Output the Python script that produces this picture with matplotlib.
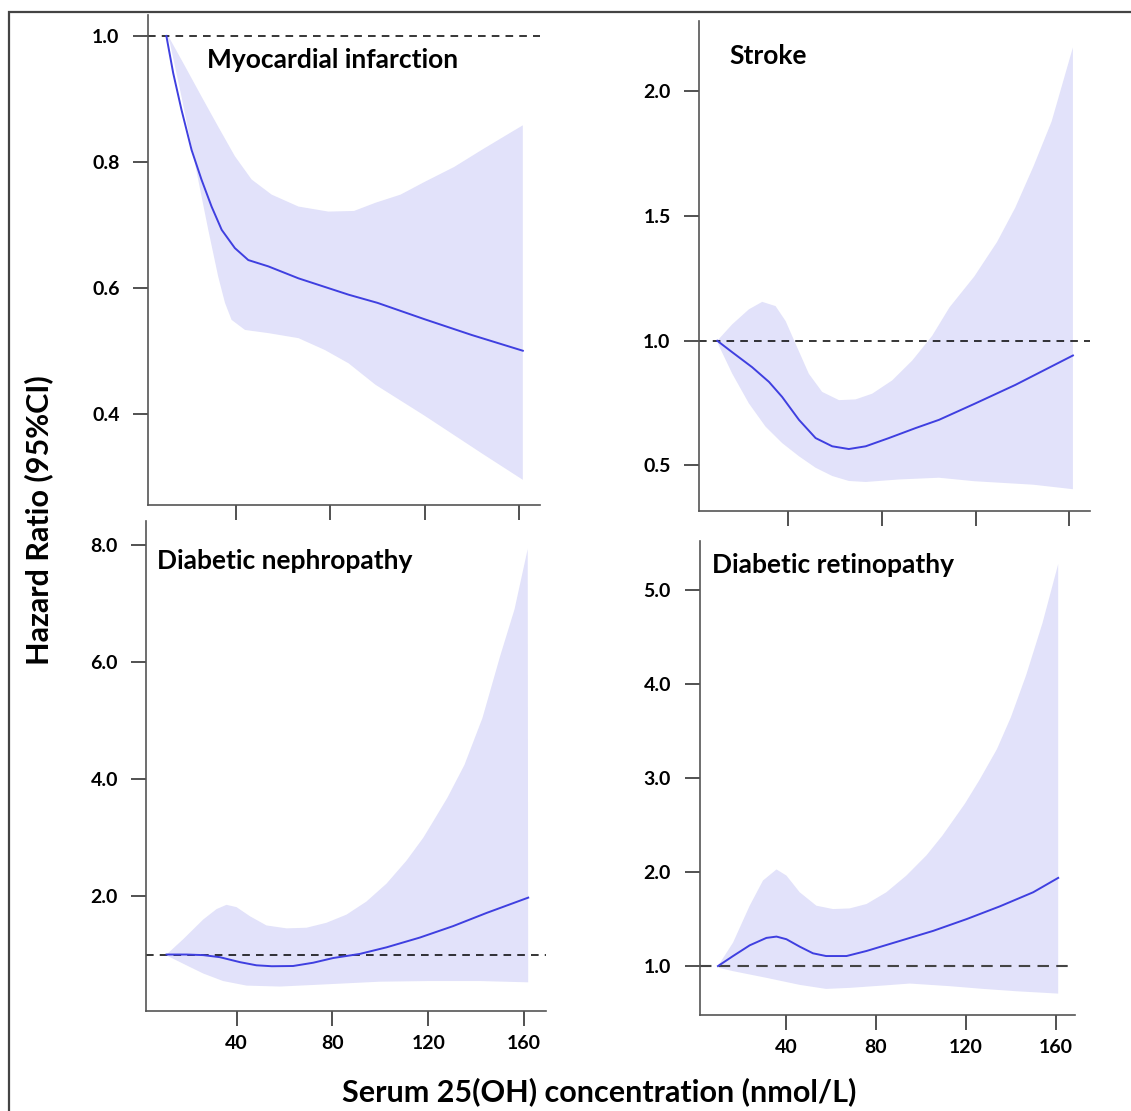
import numpy as np
import matplotlib
matplotlib.use('Agg')
import matplotlib.pyplot as plt
from matplotlib.patches import Rectangle

plt.rcParams['font.family'] = ['Lato', 'DejaVu Sans']
plt.rcParams['font.weight'] = 'bold'

W, H = 1131, 1111

# ---------------- data ----------------
# Myocardial infarction
mi_x = [10.3, 13.2, 16.7, 21, 25.2, 29.5, 33.8, 39.4, 45.1, 53.6, 66.4, 87.7, 100, 120, 140, 161.7]
mi_hr = [1.0, 0.941, 0.883, 0.819, 0.772, 0.729, 0.692, 0.663, 0.644, 0.634, 0.615, 0.589, 0.576, 0.550, 0.525, 0.50]
mi_up_x = [10.3, 11.1, 18.2, 25.2, 32.3, 39.4, 46.5, 55, 66.4, 79.1, 90, 99.1, 109.8, 119.9, 132.6, 144.7, 155.4, 161.7]
mi_up = [1.0, 1.0, 0.952, 0.904, 0.856, 0.809, 0.772, 0.748, 0.729, 0.721, 0.722, 0.735, 0.748, 0.768, 0.792,
         0.820, 0.844, 0.858]
mi_lo_x = [10.3, 11.8, 16.7, 22.4, 28.1, 32.3, 35.2, 38, 43.7, 53.6, 66.4, 77.7, 87.7, 99.1, 119.9, 144.7, 161.7]
mi_lo = [1.0, 0.989, 0.904, 0.798, 0.692, 0.618, 0.576, 0.549, 0.533, 0.528, 0.520, 0.501, 0.480, 0.446, 0.397,
         0.336, 0.295]

# Stroke
st_x = [9.7, 16.1, 24.6, 31.8, 37.4, 44.6, 51.7, 58.8, 65.9, 73.1, 83, 94.4, 104.4, 119.5, 137, 161.6]
st_hr = [1.0, 0.954, 0.894, 0.835, 0.775, 0.683, 0.61, 0.577, 0.566, 0.577, 0.61, 0.65, 0.683, 0.747, 0.823, 0.941]
st_up_x = [9.7, 16.1, 23.2, 28.9, 34.6, 38.9, 43.2, 48.8, 54.5, 61.7, 68.8, 75.9, 84.4, 93, 101.5, 108.9,
           119.5, 129.2, 137, 144.8, 152.5, 161.6]
st_up = [1.0, 1.066, 1.126, 1.156, 1.139, 1.079, 0.987, 0.868, 0.795, 0.762, 0.765, 0.788, 0.841, 0.921, 1.02,
         1.134, 1.258, 1.396, 1.534, 1.70, 1.879, 2.176]
st_lo_x = [9.7, 10.4, 16.1, 23.2, 30.3, 37.4, 44.6, 51.7, 58.8, 65.9, 73.1, 87.3, 104.4, 119.5, 144.7, 161.6]
st_lo = [1.0, 0.98, 0.868, 0.749, 0.656, 0.59, 0.537, 0.491, 0.458, 0.438, 0.434, 0.444, 0.451, 0.437, 0.423, 0.405]

# Diabetic nephropathy
dn_x = [10.8, 19.1, 26.1, 33, 41.4, 48.3, 54.7, 63.6, 72, 80.3, 91.4, 102.6, 116.5, 130.4, 144.3, 161.7]
dn_hr = [1.0, 1.0, 0.99, 0.955, 0.87, 0.816, 0.80, 0.804, 0.86, 0.94, 1.01, 1.123, 1.29, 1.486, 1.71, 1.972]
dn_up_x = [10.8, 17.8, 26.1, 31.7, 35.8, 40, 45.6, 52.5, 60.9, 69.2, 77.5, 85.9, 94.2, 102.6, 110.9, 117.9,
           122, 128, 135.1, 142.6, 150, 156, 161.5]
dn_up = [1.0, 1.263, 1.598, 1.777, 1.849, 1.81, 1.654, 1.497, 1.447, 1.458, 1.542, 1.682, 1.905, 2.212, 2.603,
         2.994, 3.27, 3.68, 4.24, 5.04, 6.10, 6.9, 7.93]
dn_lo_x = [10.8, 11.5, 19.1, 26.1, 34.4, 44.2, 58.1, 72, 85.9, 99.8, 120.6, 141.5, 161.7]
dn_lo = [1.0, 0.97, 0.816, 0.676, 0.547, 0.469, 0.453, 0.48, 0.508, 0.536, 0.547, 0.547, 0.525]

# Diabetic retinopathy
dr_x = [9.9, 16.6, 24, 31.4, 35.9, 40.3, 46.2, 52.1, 57.9, 67, 75.9, 90.7, 105.5, 120.3, 135.1, 149.9, 161]
dr_hr = [1.0, 1.107, 1.221, 1.30, 1.314, 1.286, 1.207, 1.136, 1.107, 1.107, 1.161, 1.268, 1.375, 1.50, 1.636,
         1.786, 1.939]
dr_up_x = [9.9, 16.6, 24, 29.9, 35.9, 40.3, 46.2, 53.6, 61, 68.4, 75.9, 84.7, 93.6, 102.5, 109.6, 119.6, 126,
           133.8, 140, 146.8, 154, 161]
dr_up = [1.0, 1.25, 1.643, 1.911, 2.029, 1.964, 1.786, 1.643, 1.607, 1.614, 1.661, 1.786, 1.964, 2.179, 2.39,
         2.73, 2.98, 3.31, 3.65, 4.10, 4.65, 5.28]
dr_lo_x = [9.9, 10.5, 16.6, 31.4, 46.2, 57.9, 68.4, 83.3, 95.1, 112.9, 127.7, 142.5, 161]
dr_lo = [1.0, 0.98, 0.946, 0.875, 0.80, 0.757, 0.768, 0.793, 0.814, 0.786, 0.757, 0.732, 0.707]

titles = ['Myocardial infarction', 'Stroke', 'Diabetic nephropathy', 'Diabetic retinopathy']
x_ticks = [40, 80, 120, 160]
y_ticks = [[0.4, 0.6, 0.8, 1.0], [0.5, 1.0, 1.5, 2.0], [2.0, 4.0, 6.0, 8.0], [1.0, 2.0, 3.0, 4.0, 5.0]]

# ---------------- layout (pixel boxes: x0, x1, y_top, y_bottom) ----------------
boxes = [(148, 540, 14.5, 505), (699, 1090, 20.7, 511.4),
         (146.4, 545.7, 521.4, 1011.3), (699.5, 1075.3, 540.9, 1015.2)]
xlims = [(2.5, 169), (1.9, 168.9), (2.4, 169), (1.7, 168.6)]
ylims = [(0.255, 1.034), (0.316, 2.283), (0.03, 8.4), (0.477, 5.527)]
title_pos = [(0.150, 0.907), (0.077, 0.928), (0.027, 0.920), (0.033, 0.949)]

series = [(mi_x, mi_hr, mi_up_x, mi_up, mi_lo_x, mi_lo),
          (st_x, st_hr, st_up_x, st_up, st_lo_x, st_lo),
          (dn_x, dn_hr, dn_up_x, dn_up, dn_lo_x, dn_lo),
          (dr_x, dr_hr, dr_up_x, dr_up, dr_lo_x, dr_lo)]

fill_c = '#e2e2fa'
line_c = '#3f3fe0'
spine_c = '#555555'

fig = plt.figure(figsize=(W / 100, H / 100), dpi=100)

for i, (x0, x1, yt, yb) in enumerate(boxes):
    ax = fig.add_axes([x0 / W, 1 - yb / H, (x1 - x0) / W, (yb - yt) / H])
    xs, hr, ux, up, lx, lo = series[i]
    # confidence band as one polygon: upper bound forward, lower bound back
    poly_x = np.concatenate([ux, lx[::-1]])
    poly_y = np.concatenate([up, lo[::-1]])
    ax.fill(poly_x, poly_y, color=fill_c, lw=0, zorder=1)
    ax.plot(xs, hr, color=line_c, lw=1.4, zorder=3, solid_joinstyle='round')
    if i == 3:
        ax.axhline(1.0, color='#444444', lw=1.5, dashes=(5.5, 3.5), zorder=2)
    else:
        ax.axhline(1.0, color='black', lw=1.1, dashes=(5, 4), zorder=2)

    ax.set_xlim(*xlims[i])
    ax.set_ylim(*ylims[i])
    ax.set_xticks(x_ticks)
    ax.set_yticks(y_ticks[i])
    ax.set_yticklabels(['%.1f' % v for v in y_ticks[i]])
    if i < 2:
        ax.set_xticklabels([])
    for s in ['top', 'right']:
        ax.spines[s].set_visible(False)
    for s in ['left', 'bottom']:
        ax.spines[s].set_color(spine_c)
        ax.spines[s].set_linewidth(1.2)
    ax.tick_params(axis='x', length=11, width=1.2, color='#333333', pad=6, labelsize=14)
    ax.tick_params(axis='y', length=10.5, width=1.2, color='#333333', pad=10, labelsize=14)
    for lab in ax.get_xticklabels() + ax.get_yticklabels():
        lab.set_fontweight('bold')
    ax.text(title_pos[i][0], title_pos[i][1], titles[i], transform=ax.transAxes,
            fontsize=19, fontweight='bold', ha='left', va='center')

fig.text(39 / W, 1 - 520 / H, 'Hazard Ratio (95%CI)', rotation=90, ha='center', va='center',
         fontsize=22, fontweight='bold')
fig.text(599 / W, 1 - 1092 / H, 'Serum 25(OH) concentration (nmol/L)', ha='center', va='center',
         fontsize=22, fontweight='bold')

# outer frame (only left and top edges fall inside the image)
fig.add_artist(Rectangle((8.5 / W, -0.05), 1.2, 1 - 12 / H + 0.05, transform=fig.transFigure,
                         fill=False, edgecolor='#444444', lw=1.6))

fig.savefig('out.png', dpi=100)
